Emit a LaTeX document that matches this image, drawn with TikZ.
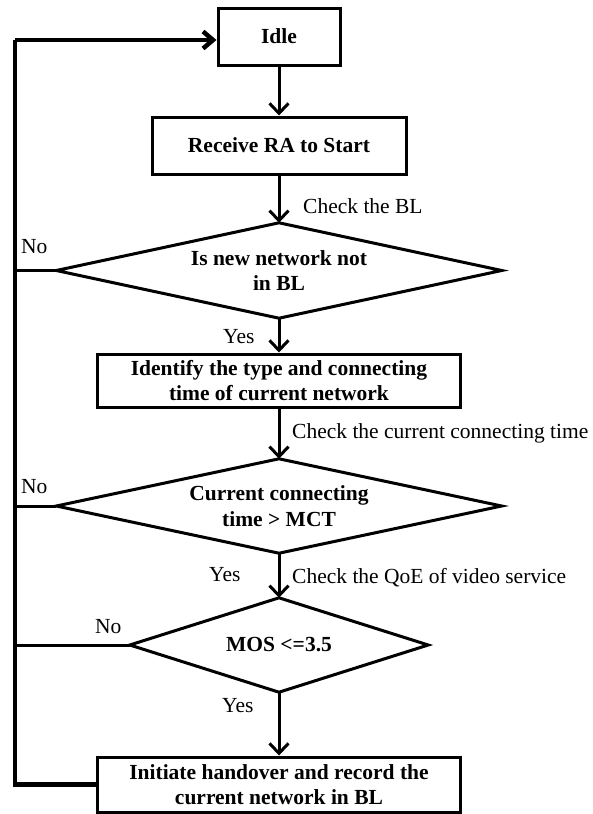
\documentclass[tikz,border=0pt]{standalone}
\usepackage{fontspec}
\setmainfont{Liberation Serif}
\usetikzlibrary{arrows.meta}
\begin{document}
\begin{tikzpicture}[x=1pt,y=-1pt,
  every node/.style={font=\fontsize{21.5}{25.5}\selectfont},
  procbox/.style={draw,line width=3pt,rectangle,inner sep=0pt,align=center,font=\fontsize{21.5}{25.5}\selectfont\bfseries},
  decbox/.style={rectangle,inner sep=0pt,align=center,font=\fontsize{21.5}{25.5}\selectfont\bfseries},
  decline/.style={line width=3pt,line join=miter},
  flow/.style={line width=3pt,-{Straight Barb[length=10pt,width=19pt]}},
  loopline/.style={line width=4.5pt},
  branch/.style={line width=3pt},
  lbl/.style={inner sep=0pt,anchor=west}
]
\useasboundingbox (0,0) rectangle (593,814);

\node[procbox,minimum width=122pt,minimum height=57pt] (idle) at (279,36.5) {Idle};
\node[procbox,minimum width=254pt,minimum height=57pt] (recv) at (279,145.5) {Receive RA to Start};
\node[decbox,minimum width=445pt,minimum height=95pt] (d1) at (279,270.5) {Is new network not\\in BL};
\node[procbox,minimum width=363pt,minimum height=53pt] (ident) at (279,380.5) {Identify the type and connecting\\time of current network};
\node[decbox,minimum width=445pt,minimum height=94pt] (d2) at (279,506) {Current connecting\\time \textgreater{} MCT};
\node[decbox,minimum width=298pt,minimum height=94pt] (d3) at (279,645) {MOS \textless=3.5};
\node[procbox,minimum width=363pt,minimum height=55pt] (hand) at (279,784.5) {Initiate handover and record the\\current network in BL};

\draw[decline] (d1.north) -- (d1.east) -- (d1.south) -- (d1.west) -- cycle;
\draw[decline] (d2.north) -- (d2.east) -- (d2.south) -- (d2.west) -- cycle;
\draw[decline] (d3.north) -- (d3.east) -- (d3.south) -- (d3.west) -- cycle;

\draw[flow] (idle) -- (recv);
\draw[flow] (recv) -- (d1);
\draw[flow] (d1) -- (ident);
\draw[flow] (ident) -- (d2);
\draw[flow] (d2) -- (d3);
\draw[flow] (d3) -- (hand);

\coordinate (lb) at (15,784.5);
\coordinate (lt) at (15,40);
\draw[loopline] (hand.west) -- (lb) -- (lt);
\draw[loopline,-{Straight Barb[length=10pt,width=17pt]}] (lt) -- (idle.west |- lt);

\coordinate (j1) at (15,270.5);
\coordinate (j2) at (15,506);
\coordinate (j3) at (15,645);
\draw[branch] (d1.west) -- (j1);
\draw[branch] (d2.west) -- (j2);
\draw[branch] (d3.west) -- (j3);

\node[lbl] (no1) at (21,247) {No};
\node[lbl] (no2) at (21,487) {No};
\node[lbl] (no3) at (95,627) {No};
\node[lbl] (yes1) at (223,337) {Yes};
\node[lbl] (yes2) at (209,575) {Yes};
\node[lbl] (yes3) at (222,706) {Yes};
\node[lbl] (c1) at (303,206) {Check the BL};
\node[lbl] (c2) at (292,433) {Check the current connecting time};
\node[lbl] (c3) at (292,578) {Check the QoE of video service};
\end{tikzpicture}
\end{document}
